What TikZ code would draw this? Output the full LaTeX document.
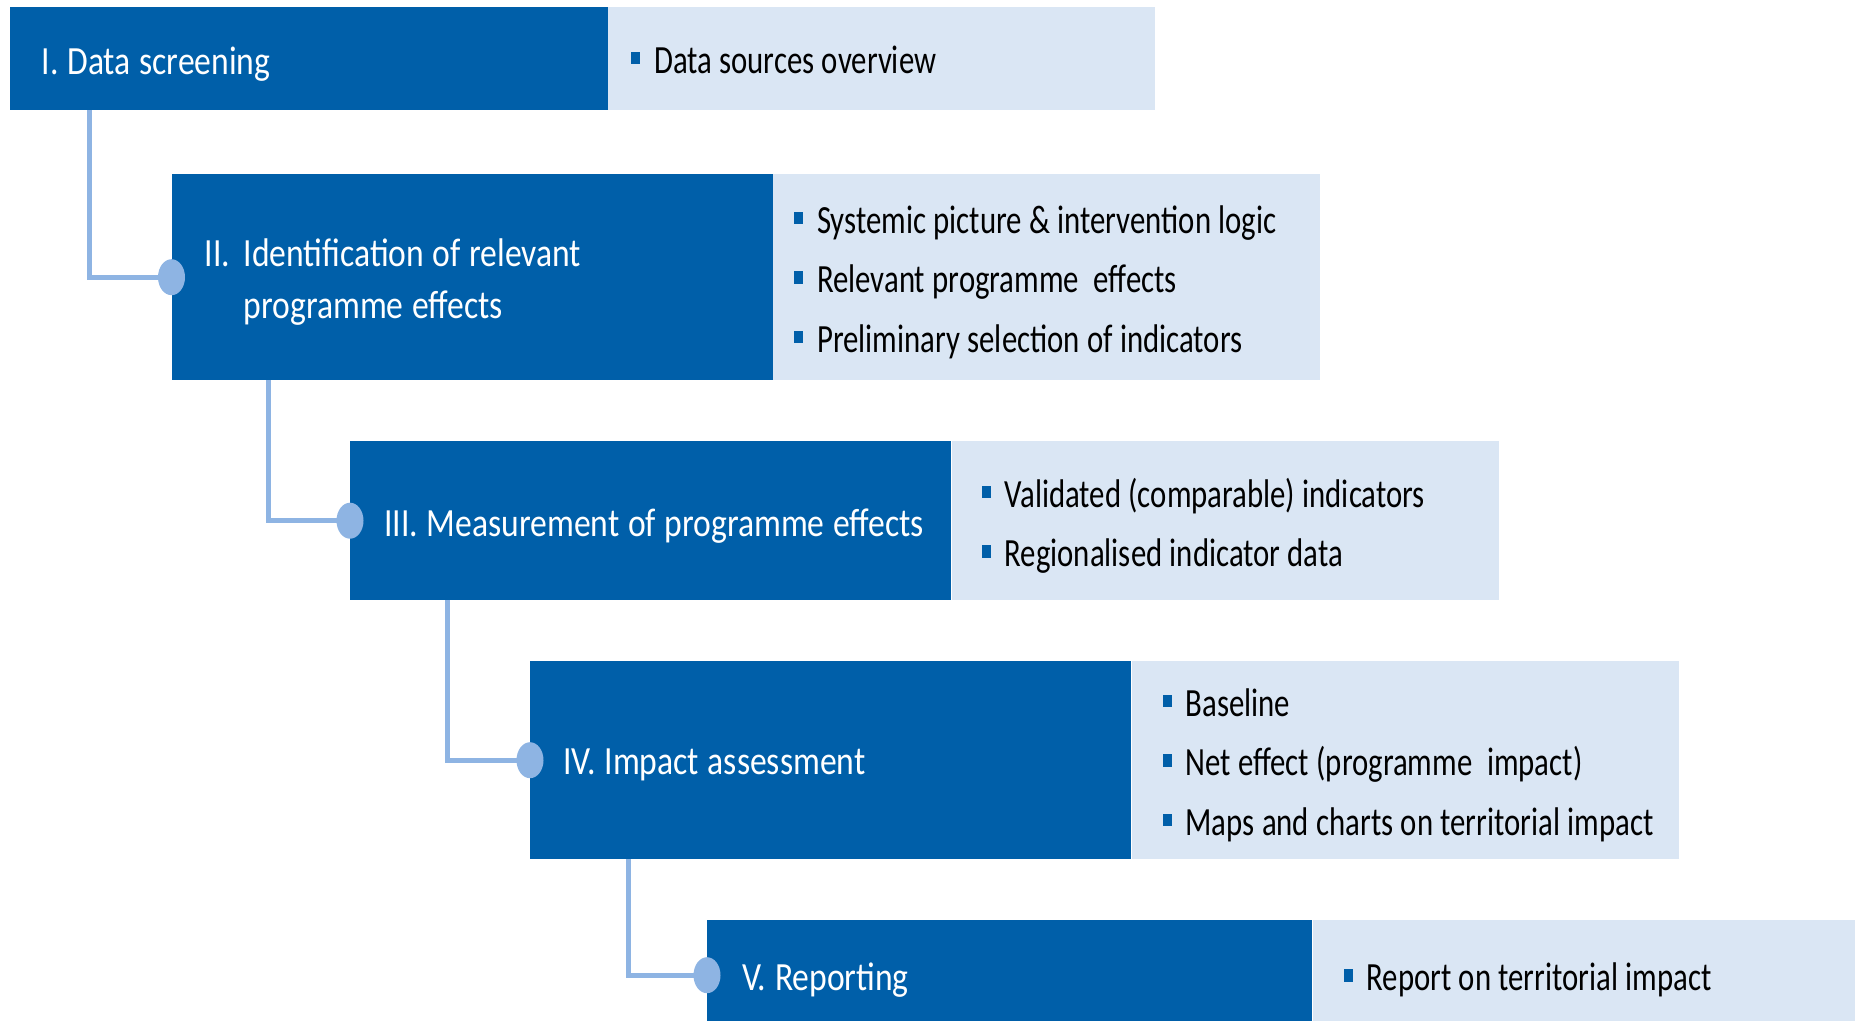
\documentclass[tikz,border=0pt]{standalone}
\usepackage{fontspec}
\setmainfont{Carlito}
\newfontfamily\headfont[FakeStretch=0.84, WordSpace=1.15]{Carlito}
\newfontfamily\itemfont[FakeStretch=0.77, WordSpace=1.05]{Carlito}
\usetikzlibrary{positioning,shapes.geometric}

\definecolor{darkblue}{HTML}{005FA9}
\definecolor{paleblue}{HTML}{DAE6F4}
\definecolor{linkblue}{HTML}{8EB4E3}

\newcommand{\bul}{{\color{darkblue}\rule[9pt]{9pt}{12.5pt}}\hspace{14pt}}

\tikzset{
	stage/.style={fill=darkblue, anchor=north west, minimum width=601pt, inner sep=0pt},
	panel/.style={fill=paleblue, minimum width=547pt, inner sep=0pt},
	title/.style={text=white, inner sep=0pt, align=left, yshift=-5pt, font=\headfont\fontsize{40}{52}\selectfont},
	items/.style={text=black, inner sep=0pt, align=left, yshift=-5pt, font=\itemfont\fontsize{40}{59.5}\selectfont},
	link/.style={draw=linkblue, line width=5pt},
	knob/.style={ellipse, fill=linkblue, minimum width=27pt, minimum height=36pt, inner sep=0pt},
}

\begin{document}
\begin{tikzpicture}[x=1pt, y=-1pt]
	\useasboundingbox (0, 0) rectangle (1855, 1020);

	% the five steps
	\draw (9.5, 7) 		node[stage, minimum height=103pt, minimum width=598pt] 	(s1) 	{};
	\draw (171.5, 174) 	node[stage, minimum height=206pt] 	(s2) 	{};
	\draw (350, 441) 	node[stage, minimum height=159pt] 	(s3) 	{};
	\draw (530, 661) 	node[stage, minimum height=198pt] 	(s4) 	{};
	\draw (707, 920) 	node[stage, minimum height=110pt, minimum width=605pt] 	(s5) 	{};

	\node[panel, right=0pt of s1, minimum height=103pt] 	(p1) 	{};
	\node[panel, right=0pt of s2, minimum height=206pt] 	(p2) 	{};
	\node[panel, right=0pt of s3, minimum height=159pt] 	(p3) 	{};
	\node[panel, right=0pt of s4, minimum height=198pt] 	(p4) 	{};
	\node[panel, right=0pt of s5, minimum height=110pt] 	(p5) 	{};

	\node[title, right=32pt of s1.west] 	(t1) 	{I. Data screening};
	\node[title, right=33pt of s2.west] 	(t2) 	{\makebox[39pt][l]{II.}Identification of relevant\\\hspace*{39pt}programme effects};
	\node[title, right=34pt of s3.west] 	(t3) 	{III. Measurement of programme effects};
	\node[title, right=33pt of s4.west] 	(t4) 	{IV. Impact assessment};
	\node[title, right=35pt of s5.west] 	(t5) 	{V. Reporting};

	\node[items, right=23pt of p1.west, yshift=4pt] 	(i1) 	{\bul Data sources overview};
	\node[items, right=21pt of p2.west] 	(i2) 	{\bul Systemic picture \& intervention logic\\\bul Relevant programme\ \ effects\\\bul Preliminary selection of indicators};
	\node[items, right=30pt of p3.west] 	(i3) 	{\bul Validated (comparable) indicators\\\bul Regionalised indicator data};
	\node[items, right=31pt of p4.west] 	(i4) 	{\bul Baseline\\\bul Net effect (programme\ \ impact)\\\bul Maps and charts on territorial impact};
	\node[items, right=31pt of p5.west] 	(i5) 	{\bul Report on territorial impact};

	% connectors
	\draw[link] ([xshift=80pt]s1.south west) |- (s2.west);
	\draw[link] ([xshift=97pt]s2.south west) |- (s3.west);
	\draw[link] ([xshift=97pt]s3.south west) |- (s4.west);
	\draw[link] ([xshift=98pt]s4.south west) |- (s5.west);

	\node[knob] (k2) at (s2.west) {};
	\node[knob] (k3) at (s3.west) {};
	\node[knob] (k4) at (s4.west) {};
	\node[knob] (k5) at (s5.west) {};
\end{tikzpicture}
\end{document}
